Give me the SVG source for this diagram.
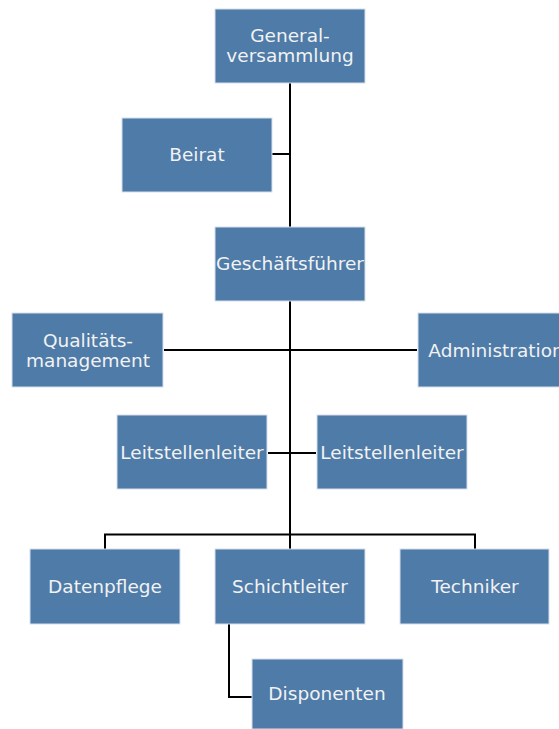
<svg xmlns="http://www.w3.org/2000/svg" width="559" height="729" viewBox="0 0 559 729">
<style>
.box{fill:#4e7ba8;stroke:#d6e0ec;stroke-width:1}
.t{font-family:"DejaVu Sans",Verdana,sans-serif;font-size:18.5px;fill:#f2f2f2;text-anchor:middle}
.c{fill:none;stroke:#000;stroke-width:2}
</style>
<rect width="559" height="729" fill="#fff"/>
<g id="connectors">
<path class="c" d="M290 83V549"/>
<path class="c" d="M272 154H290"/>
<path class="c" d="M164 350H417"/>
<path class="c" d="M268 453H316"/>
<path class="c" d="M105 549V534.5H475V549"/>
<path class="c" d="M229 624V697H252"/>
</g>
<g id="generalversammlung"><rect class="box" x="215" y="9" width="150" height="74"/><text class="t" x="290" y="42">General-</text><text class="t" x="290" y="62">versammlung</text></g>
<g id="beirat"><rect class="box" x="122" y="118" width="150" height="74"/><text class="t" x="197" y="161">Beirat</text></g>
<g id="geschaeftsfuehrer"><rect class="box" x="215" y="227" width="150" height="74"/><text class="t" x="290" y="270">Geschäftsführer</text></g>
<g id="qualitaetsmanagement"><rect class="box" x="12" y="313" width="151" height="74"/><text class="t" x="88" y="347">Qualitäts-</text><text class="t" x="88" y="367">management</text></g>
<g id="administration"><rect class="box" x="418" y="313" width="150" height="74"/><text class="t" x="496" y="357">Administration</text></g>
<g id="leitstellenleiter1"><rect class="box" x="117" y="415" width="150" height="74"/><text class="t" x="192" y="459">Leitstellenleiter</text></g>
<g id="leitstellenleiter2"><rect class="box" x="317" y="415" width="150" height="74"/><text class="t" x="392" y="459">Leitstellenleiter</text></g>
<g id="datenpflege"><rect class="box" x="30" y="549" width="150" height="75"/><text class="t" x="105" y="593">Datenpflege</text></g>
<g id="schichtleiter"><rect class="box" x="215" y="549" width="150" height="75"/><text class="t" x="290" y="593">Schichtleiter</text></g>
<g id="techniker"><rect class="box" x="400" y="549" width="149" height="75"/><text class="t" x="475" y="593">Techniker</text></g>
<g id="disponenten"><rect class="box" x="252" y="659" width="151" height="70"/><text class="t" x="327" y="700">Disponenten</text></g>
</svg>
